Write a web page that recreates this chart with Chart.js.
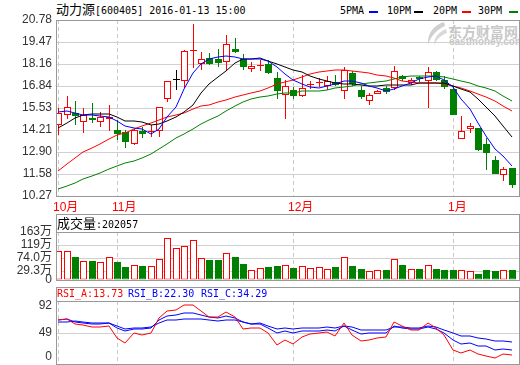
<!DOCTYPE html>
<html>
<head>
<meta charset="utf-8">
<script src="https://cdn.jsdelivr.net/npm/chart.js@4.4.1/dist/chart.umd.min.js"></script>
<style>
  body { margin: 0; width: 520px; height: 365px; overflow: hidden; background: #fff; position: relative;
         font-family: "Liberation Sans", "Noto Sans CJK SC", sans-serif; }
  canvas { position: absolute; left: 0; }
  .box { position: absolute; left: 56px; width: 464px; border: 1px solid #999; box-sizing: border-box; }
  .sep { position: absolute; left: 56px; width: 464px; height: 1px; background: #999; }
  .txt { position: absolute; white-space: nowrap; color: #000; }
  .mono { font-family: "DejaVu Sans Mono", "Noto Sans CJK SC", monospace; font-size: 10px; }
  .cjk { font-family: "Noto Sans CJK SC", sans-serif; font-size: 13px; }
  .dash { position: absolute; top: 11px; width: 9px; height: 2px; }
</style>
</head>
<body>
<div class="txt" style="left:56px;top:0;line-height:18px"><span class="cjk">动力源</span><span class="mono">[600405] 2016-01-13 15:00</span></div>
<div class="txt mono" style="left:340px;top:2px;line-height:18px">5PMA</div>
<div class="dash" style="left:369px;background:#0000ff"></div>
<div class="txt mono" style="left:387px;top:2px;line-height:18px">10PM</div>
<div class="dash" style="left:414px;background:#000"></div>
<div class="txt mono" style="left:433px;top:2px;line-height:18px">20PM</div>
<div class="dash" style="left:462px;background:#ff0000"></div>
<div class="txt mono" style="left:478px;top:2px;line-height:18px">30PM</div>
<div class="dash" style="left:509px;background:#008000"></div>

<svg style="position:absolute;left:424px;top:21px" width="24" height="26" viewBox="0 0 24 26">
  <path d="M20 1 C10 4 3 12 4 24 C7 15 12 9 21 5 Z" fill="#d0d0d0"/>
  <path d="M22 8 C15 11 10 16 10 24 C13 18 17 14 23 12 Z" fill="#d8d8d8"/>
</svg>
<div class="txt" style="left:448px;top:21px;font:bold 14px 'Noto Sans CJK SC';color:#c8c8c8">东方财富网</div>
<div class="txt" style="left:449px;top:36px;font:bold 10px 'Liberation Sans';color:#c8c8c8">eastmoney.com</div>

<canvas id="price" width="520" height="216" style="top:0"></canvas>
<canvas id="vol" width="520" height="72" style="top:220px"></canvas>
<canvas id="rsi" width="520" height="95" style="top:289px"></canvas>

<div class="box" style="top:20px;height:177px"></div>
<div class="box" style="top:214px;height:67px"></div>
<div class="sep" style="top:232px"></div>
<div class="box" style="top:287px;height:78px"></div>
<div class="sep" style="top:301px"></div>

<div class="txt" style="left:57px;top:214px;line-height:18px"><span class="cjk">成交量</span><span class="mono">:202057</span></div>
<div class="txt mono" style="left:57px;top:287px;line-height:14px;color:#ff0000">RSI_A:13.73</div>
<div class="txt mono" style="left:128px;top:287px;line-height:14px;color:#0000ff">RSI_B:22.30</div>
<div class="txt mono" style="left:201px;top:287px;line-height:14px;color:#0000ff">RSI_C:34.29</div>

<script>
// axes
const MONTH_TICKS = [0, 7, 28, 47];
const MONTH_LABELS = ['10月', '11月', '12月', '1月'];
const PRICE_TICKS = [10.27, 11.58, 12.90, 14.21, 15.53, 16.84, 18.16, 19.47, 20.78];
const VOL_TICKS = [0, 29.3, 74.0, 119, 163];
const VOL_LABELS = ['0', '29.3万', '74.0万', '119万', '163万'];
const RSI_TICKS = [0, 49, 92];

// daily candles (yuan)
const open = [14.52, 15.12, 15.20, 14.70, 14.92, 14.70, 14.88, 14.24, 14.10, 13.36, 14.16, 14.10, 14.16, 16.06,
  17.22, 17.16, 18.94, 18.16, 18.52, 18.48, 18.26, 19.04, 18.44, 17.86, 18.04, 18.16, 17.30, 16.32,
  16.60, 16.24, 16.88, 17.02, 16.86, 17.06, 16.52, 17.60, 16.60, 15.96, 16.38, 16.70, 16.70, 17.46,
  17.00, 17.36, 17.16, 17.66, 17.20, 16.66, 13.66, 14.30, 14.36, 13.36, 12.42, 11.50, 11.96];
const high = [15.52, 16.26, 15.92, 15.50, 15.80, 15.30, 15.72, 14.80, 14.20, 14.26, 14.40, 14.50, 15.60, 17.16,
  17.80, 18.96, 20.56, 18.86, 18.80, 19.02, 19.86, 19.72, 18.72, 18.30, 18.40, 18.40, 17.70, 17.22,
  16.76, 17.52, 17.12, 17.32, 17.46, 17.52, 18.00, 17.76, 16.82, 16.40, 16.60, 16.82, 18.02, 17.52,
  17.30, 17.46, 18.00, 17.76, 17.46, 16.86, 15.02, 14.60, 14.36, 13.76, 12.66, 12.00, 11.96];
const low = [13.92, 14.86, 14.50, 14.06, 14.60, 14.40, 14.16, 13.60, 13.16, 13.30, 13.76, 13.80, 13.82, 15.90,
  16.60, 16.72, 17.92, 17.80, 18.12, 17.96, 17.76, 18.80, 17.82, 17.70, 17.76, 17.56, 16.06, 14.86,
  16.06, 16.16, 16.66, 16.80, 16.60, 16.84, 16.06, 16.86, 16.06, 15.72, 16.36, 16.34, 16.60, 17.16,
  16.90, 17.06, 15.52, 17.16, 16.66, 15.10, 13.66, 14.06, 12.96, 11.80, 11.56, 11.16, 10.76];
const close = [15.24, 15.56, 15.04, 15.12, 14.80, 14.96, 15.00, 14.00, 13.48, 14.20, 14.00, 14.16, 15.60, 17.16,
  17.22, 18.92, 18.98, 18.48, 18.16, 18.22, 19.32, 18.84, 17.98, 18.06, 18.08, 17.62, 16.52, 16.86,
  16.24, 16.72, 16.96, 17.06, 17.16, 16.90, 17.80, 16.96, 16.16, 16.32, 16.52, 16.46, 17.72, 17.26,
  17.20, 17.28, 17.66, 17.22, 16.76, 15.10, 14.16, 14.44, 13.02, 12.86, 11.60, 11.90, 10.90];

// volume (万手)
const volume = [96.8, 100, 79.8, 66.2, 66.2, 62.8, 78.7, 60.5, 45.8, 51.5, 49.2, 48.1, 71.9, 143.2,
  109.2, 116, 136.4, 75.3, 69.6, 69.6, 90, 79.8, 56, 34.5, 41.3, 45.8, 49.2, 52.6,
  40.2, 49.2, 41.3, 45.8, 39, 45.8, 79.8, 49.2, 39, 28.9, 32.3, 32.3, 73, 52.6,
  39, 35.7, 52.6, 39, 32.3, 32.3, 34.5, 28.9, 18.7, 32.3, 30.1, 32.3, 32.3];

// moving averages
const ma5 = [15.26, 15.36, 15.20, 15.10, 15.08, 15.06, 14.96, 14.76, 14.46, 14.36, 14.26, 14.00, 14.26, 14.96,
  15.56, 16.66, 17.60, 18.16, 18.44, 18.60, 18.64, 18.60, 18.48, 18.46, 18.48, 18.36, 17.96, 17.56,
  17.22, 16.96, 16.76, 16.72, 16.86, 16.96, 17.16, 17.16, 17.00, 16.86, 16.70, 16.52, 16.66, 16.86,
  17.00, 17.26, 17.40, 17.42, 17.20, 16.80, 16.06, 15.46, 14.60, 13.86, 13.06, 12.66, 12.06];
const ma10 = [14.36, 14.60, 14.92, 15.12, 15.16, 15.16, 15.16, 14.96, 14.76, 14.72, 14.66, 14.52, 14.56, 14.76,
  14.96, 15.30, 15.72, 16.40, 16.96, 17.36, 17.76, 18.20, 18.44, 18.48, 18.52, 18.36, 18.16, 17.96,
  17.82, 17.66, 17.46, 17.26, 17.12, 17.00, 16.96, 16.96, 16.90, 16.86, 16.86, 16.88, 16.88, 16.88,
  16.92, 17.00, 17.04, 17.04, 17.00, 16.86, 16.66, 16.46, 16.06, 15.60, 15.06, 14.46, 13.82];
const ma20 = [11.76, 12.16, 12.52, 12.88, 13.16, 13.40, 13.66, 13.92, 14.06, 14.26, 14.46, 14.60, 14.80, 14.96,
  15.08, 15.20, 15.46, 15.66, 15.72, 15.86, 16.00, 16.16, 16.28, 16.40, 16.52, 16.72, 16.96, 17.06,
  17.22, 17.40, 17.56, 17.66, 17.76, 17.78, 17.80, 17.76, 17.68, 17.60, 17.52, 17.42, 17.32, 17.16,
  17.08, 17.04, 17.00, 17.02, 16.96, 16.86, 16.72, 16.52, 16.36, 16.16, 15.92, 15.66, 15.36];
const ma30 = [10.66, 10.86, 11.06, 11.26, 11.46, 11.66, 11.86, 12.06, 12.22, 12.36, 12.52, 12.76, 13.06, 13.40,
  13.72, 13.96, 14.30, 14.56, 14.80, 15.06, 15.36, 15.66, 15.86, 16.06, 16.20, 16.26, 16.36, 16.40,
  16.40, 16.52, 16.56, 16.56, 16.62, 16.72, 16.80, 16.86, 16.96, 17.00, 17.10, 17.16, 17.24, 17.36,
  17.46, 17.46, 17.46, 17.46, 17.40, 17.26, 17.16, 17.00, 16.86, 16.72, 16.52, 16.26, 15.96];

// RSI
const rsiA = [69.3, 71.5, 63.4, 61.3, 58.1, 58.1, 59.7, 41.1, 33.1, 49.0, 45.9, 50.0, 73.1, 84.0,
  85.0, 93.1, 93.1, 84.0, 74.2, 74.2, 82.4, 74.7, 55.4, 57.0, 57.0, 49.0, 30.5, 38.5,
  32.1, 42.7, 48.0, 49.0, 50.6, 44.9, 65.0, 46.5, 35.8, 38.5, 41.1, 42.2, 66.1, 59.7,
  54.3, 54.3, 65.0, 57.0, 46.5, 22.5, 18.2, 22.5, 16.1, 12.9, 9.1, 16.1, 13.73];
const rsiB = [69.9, 71.5, 66.1, 65.0, 63.9, 63.9, 65.0, 57.0, 52.7, 55.9, 55.4, 56.4, 70.4, 76.9,
  78.0, 81.3, 81.3, 78.5, 74.7, 73.6, 76.9, 73.1, 66.1, 63.9, 63.9, 57.0, 49.0, 51.6,
  49.0, 51.6, 51.6, 52.7, 54.3, 51.6, 60.7, 54.3, 48.0, 49.0, 49.0, 49.0, 59.7, 57.0,
  55.4, 55.4, 58.6, 55.4, 50.0, 38.5, 32.1, 33.1, 28.8, 27.8, 22.5, 23.6, 22.30];
const rsiC = [66.7, 67.2, 67.7, 66.1, 65.6, 65.6, 65.6, 59.7, 55.4, 57.0, 56.4, 58.1, 65.0, 69.3,
  70.4, 72.0, 72.0, 71.5, 69.3, 68.8, 70.4, 69.3, 66.1, 63.9, 65.0, 59.7, 55.9, 57.0,
  55.9, 57.0, 57.0, 57.0, 58.1, 57.0, 60.7, 58.1, 54.3, 54.3, 54.3, 54.3, 58.6, 58.1,
  57.0, 57.0, 59.7, 58.1, 54.3, 49.0, 44.9, 44.9, 41.1, 39.5, 35.8, 35.8, 34.29];

const RED = '#ff0000';
const GREEN = '#008000';
const BLUE = '#0000ff';
const GRID = '#d0d0d0';
const X_MIN = -0.274;
const X_MAX = 54.88;

Chart.defaults.font.family = '"Liberation Sans", "Noto Sans CJK SC", sans-serif';
Chart.defaults.font.size = 12;
Chart.defaults.animation = false;
Chart.defaults.events = [];

const dir = close.map((c, i) => (c > open[i] ? 1 : c < open[i] ? -1 : 0));
const lineColor = dir.map((d) => (d > 0 ? RED : d < 0 ? GREEN : '#000000'));
const bodyFill = dir.map((d) => (d > 0 ? '#ffffff' : d < 0 ? GREEN : '#000000'));
const pts = (arr) => arr.map((y, x) => ({ x, y }));

// shift bars half a pixel so 1px wicks and 7px bodies land on whole pixels
const crispBars = {
  id: 'crispBars',
  beforeDatasetDraw(chart, args) {
    if (args.meta.type === 'bar') {
      chart.ctx.save();
      chart.ctx.translate(0.5, 0);
    }
  },
  afterDatasetDraw(chart, args) {
    if (args.meta.type === 'bar') chart.ctx.restore();
  },
};

function monthAxis(height, showLabels) {
  return {
    type: 'linear',
    min: X_MIN,
    max: X_MAX,
    offset: false,
    alignToPixels: true,
    afterBuildTicks: (axis) => { axis.ticks = MONTH_TICKS.map((value) => ({ value })); },
    afterFit: (axis) => { axis.height = height; },
    ticks: {
      display: showLabels,
      autoSkip: false,
      maxRotation: 0,
      align: 'start',
      labelOffset: -5,
      padding: 4,
      color: RED,
      callback: (v) => MONTH_LABELS[MONTH_TICKS.indexOf(v)],
    },
    grid: { offset: false, drawTicks: false, color: '#c8c8c8' },
    border: { display: false, dash: [4, 3] },
  };
}

function valueAxis(min, max, tickValues, label, gridColor) {
  return {
    min,
    max,
    alignToPixels: true,
    afterBuildTicks: (axis) => { axis.ticks = tickValues.map((value) => ({ value })); },
    afterFit: (axis) => { axis.width = 56; },
    ticks: { autoSkip: false, padding: 4, color: '#333', callback: label },
    grid: { drawTicks: false, color: gridColor },
    border: { display: false },
  };
}

const barBase = { grouped: false, inflateAmount: 0, borderSkipped: false };

new Chart(document.getElementById('price'), {
  type: 'bar',
  data: {
    datasets: [
      { type: 'line', data: pts(ma5), borderColor: BLUE, borderWidth: 1, pointRadius: 0, order: 0 },
      { type: 'line', data: pts(ma10), borderColor: '#000', borderWidth: 1, pointRadius: 0, order: 0 },
      { type: 'line', data: pts(ma20), borderColor: RED, borderWidth: 1, pointRadius: 0, order: 0 },
      { type: 'line', data: pts(ma30), borderColor: GREEN, borderWidth: 1, pointRadius: 0, order: 0 },
      {
        ...barBase,
        data: open.map((o, i) => ({ x: i, y: [Math.min(o, close[i]), Math.max(o, close[i])] })),
        backgroundColor: bodyFill,
        borderColor: lineColor,
        borderWidth: 1,
        barThickness: 7,
        minBarLength: 1,
        order: 1,
      },
      {
        ...barBase,
        data: low.map((l, i) => ({ x: i, y: [l, high[i]] })),
        backgroundColor: lineColor,
        borderWidth: 0,
        barThickness: 1,
        order: 2,
      },
    ],
  },
  options: {
    responsive: false,
    layout: { padding: { top: 20, right: 1 } },
    plugins: { legend: { display: false }, tooltip: { enabled: false } },
    scales: {
      x: monthAxis(20, true),
      y: valueAxis(10.27, 20.78, PRICE_TICKS, (v) => v.toFixed(2), GRID),
    },
  },
  plugins: [crispBars],
});

new Chart(document.getElementById('vol'), {
  type: 'bar',
  data: {
    datasets: [{
      ...barBase,
      data: pts(volume),
      backgroundColor: dir.map((d) => (d < 0 ? GREEN : '#ffffff')),
      borderColor: dir.map((d) => (d < 0 ? GREEN : RED)),
      borderWidth: 1,
      barThickness: 7,
    }],
  },
  options: {
    responsive: false,
    layout: { padding: { top: 12, right: 1 } },
    plugins: { legend: { display: false }, tooltip: { enabled: false } },
    scales: {
      x: monthAxis(12, false),
      y: valueAxis(0, 163, VOL_TICKS, (v) => VOL_LABELS[VOL_TICKS.indexOf(v)], GRID),
    },
  },
  plugins: [crispBars],
});

// the canvas runs past the window bottom so the axis label padding does not squeeze the panel
new Chart(document.getElementById('rsi'), {
  type: 'line',
  data: {
    datasets: [
      { data: pts(rsiA), borderColor: RED, borderWidth: 1, pointRadius: 0 },
      { data: pts(rsiB), borderColor: BLUE, borderWidth: 1, pointRadius: 0 },
      { data: pts(rsiC), borderColor: BLUE, borderWidth: 1, pointRadius: 0 },
    ],
  },
  options: {
    responsive: false,
    layout: { padding: { top: 12, right: 1 } },
    plugins: { legend: { display: false }, tooltip: { enabled: false } },
    scales: {
      x: monthAxis(20, false),
      // the bottom label sits inside the panel, like the original
      y: valueAxis(0, 100, RSI_TICKS, (v) => (v === 0 ? ['0', ''] : String(v)),
        (c) => (c.tick && c.tick.value === 49 ? GRID : 'rgba(0,0,0,0)')),
    },
  },
});
</script>
</body>
</html>
